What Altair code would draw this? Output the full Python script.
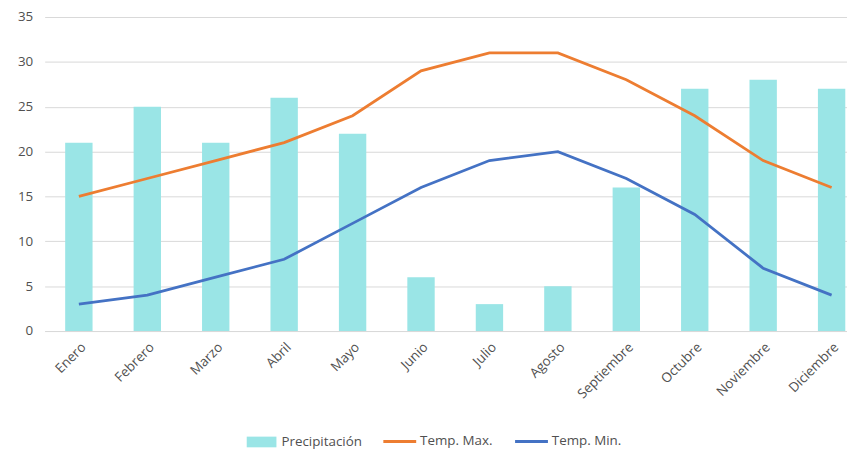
import altair as alt
import pandas as pd

meses = ["Enero", "Febrero", "Marzo", "Abril", "Mayo", "Junio", "Julio",
         "Agosto", "Septiembre", "Octubre", "Noviembre", "Diciembre"]
precipitacion = [21, 25, 21, 26, 22, 6, 3, 5, 16, 27, 28, 27]
temp_max = [15, 17, 19, 21, 24, 29, 31, 31, 28, 24, 19, 16]
temp_min = [3, 4, 6, 8, 12, 16, 19, 20, 17, 13, 7, 4]

bars_df = pd.DataFrame({"Mes": meses, "valor": precipitacion, "serie": "Precipitación"})
lines_df = pd.concat([
    pd.DataFrame({"Mes": meses, "valor": temp_max, "serie": "Temp. Max."}),
    pd.DataFrame({"Mes": meses, "valor": temp_min, "serie": "Temp. Min."}),
])

FONT = "Open Sans"
TXT = "#505050"

x = alt.X("Mes:N", sort=meses, title=None,
          scale=alt.Scale(paddingInner=0.6, paddingOuter=0.3, range=[0, 829]),
          axis=alt.Axis(labelAngle=-45, labelFontSize=13.5, labelColor=TXT,
                        labelFont=FONT, ticks=False, domainColor="#d9d9d9",
                        labelPadding=9, grid=False))
y = alt.Y("valor:Q", title=None,
          scale=alt.Scale(domain=[0, 35], nice=False),
          axis=alt.Axis(values=list(range(0, 36, 5)), labelFontSize=13.5,
                        labelColor=TXT, labelFont=FONT, ticks=False, domain=False,
                        gridColor="#d9d9d9", labelPadding=12))

bars = alt.Chart(bars_df).mark_bar(opacity=1).encode(
    x=x, y=y,
    color=alt.Color("serie:N",
                    scale=alt.Scale(domain=["Precipitación"], range=["#9AE5E6"]),
                    legend=alt.Legend(orient="none", legendX=203, legendY=413,
                                      title=None,
                                      symbolType="M-1,-0.36H1V0.36H-1Z",
                                      symbolSize=900, symbolOpacity=1,
                                      labelFont=FONT, labelFontSize=13.5,
                                      labelColor=TXT, labelOffset=4)),
)

lines = alt.Chart(lines_df).mark_line(strokeWidth=2.8).encode(
    x=x, y=y,
    stroke=alt.Stroke("serie:N",
                      scale=alt.Scale(domain=["Temp. Max.", "Temp. Min."],
                                      range=["#ED7D31", "#4472C4"]),
                      legend=alt.Legend(orient="none", legendX=340, legendY=410,
                                        title=None, direction="horizontal",
                                        symbolType="stroke", symbolSize=1100,
                                        symbolStrokeWidth=3, columnPadding=15,
                                        labelFont=FONT, labelFontSize=13.5,
                                        labelColor=TXT, labelOffset=2)),
)

chart = alt.layer(bars, lines).properties(
    width=808, height=317,
    autosize=alt.AutoSizeParams(type="none"),
    padding={"left": 37, "top": 7, "right": 2, "bottom": 120},
).configure_view(stroke=None)

chart.save("out.html", embed_options={"renderer": "svg", "actions": False})
